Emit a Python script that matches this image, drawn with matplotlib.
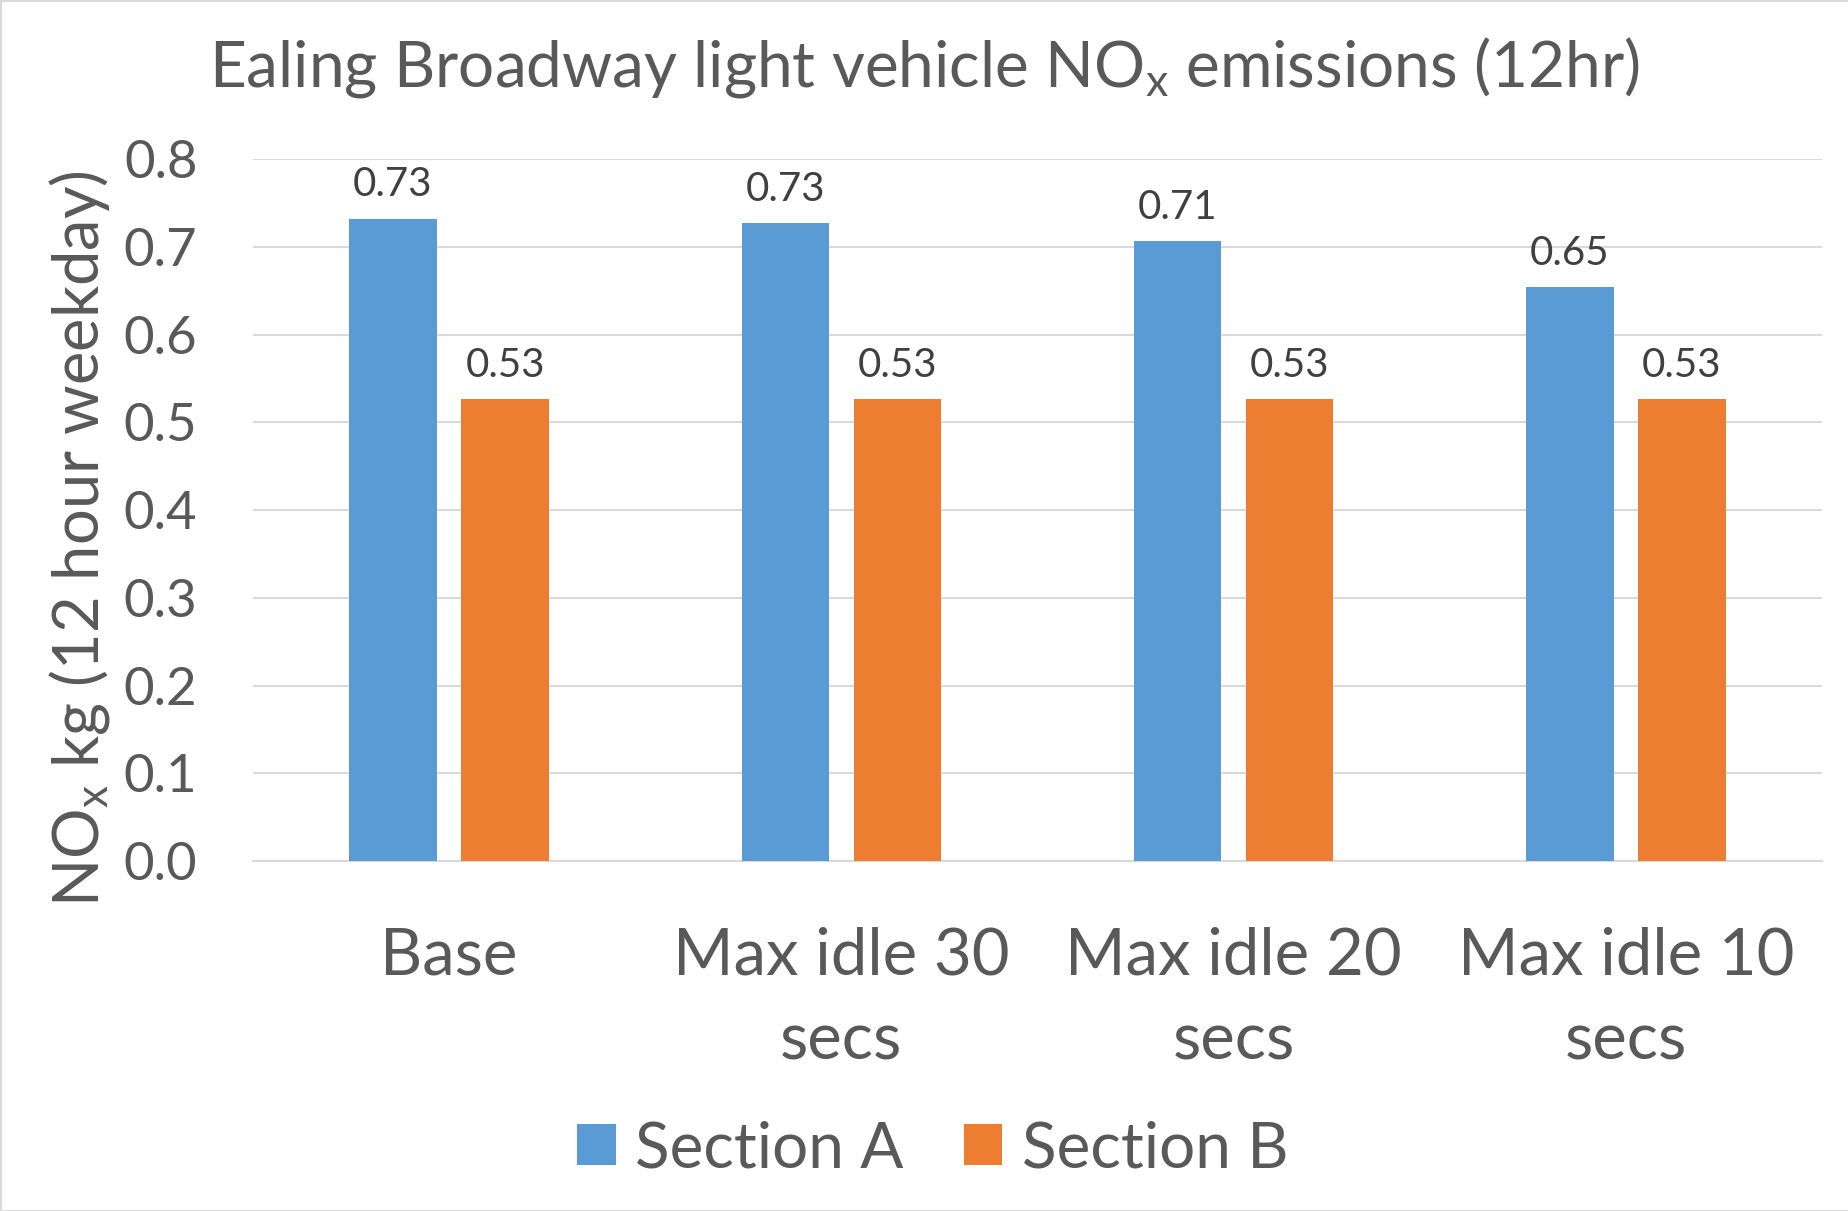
import matplotlib
matplotlib.use("Agg")
import matplotlib.pyplot as plt
import numpy as np
from matplotlib.patches import Patch

categories = ["Base", "Max idle 30\nsecs", "Max idle 20\nsecs", "Max idle 10\nsecs"]
section_a = [0.732, 0.727, 0.706, 0.654]
section_b = [0.526, 0.526, 0.526, 0.526]
series_names = ["Section A", "Section B"]
yticks = [0.0, 0.1, 0.2, 0.3, 0.4, 0.5, 0.6, 0.7, 0.8]

plt.rcParams['font.family'] = ['Lato', 'DejaVu Sans']
plt.rcParams['mathtext.fontset'] = 'custom'
plt.rcParams['mathtext.rm'] = 'Lato'
plt.rcParams['mathtext.it'] = 'Lato:italic'
plt.rcParams['mathtext.bf'] = 'Lato:bold'

BLUE = "#5B9BD5"
ORANGE = "#ED7D31"
TXT = "#595959"
LBL = "#404040"
GRID = "#D9D9D9"

fig = plt.figure(figsize=(18.49, 12.11), dpi=100)
fig.patch.set_facecolor("white")
fig.patch.set_edgecolor(GRID)
fig.patch.set_linewidth(2)

ax = fig.add_axes([0.1368, 0.289, 0.9854 - 0.1368, 0.8687 - 0.289])
x = np.arange(len(categories))
w = 0.223
off = 0.143
ba = ax.bar(x - off, section_a, w, color=BLUE, zorder=3, label=series_names[0])
bb = ax.bar(x + off, section_b, w, color=ORANGE, zorder=3, label=series_names[1])

for bars in (ba, bb):
    ax.bar_label(bars, fmt="%.2f", padding=11, fontsize=29, color=LBL)

ax.set_xlim(-0.5, 3.5)
ax.set_ylim(0, 0.8)
ax.set_yticks(yticks)
ax.set_yticklabels([f"{v:.1f}" for v in yticks])
ax.yaxis.grid(True, color=GRID, linewidth=1.5, zorder=0)
ax.set_axisbelow(True)
for s in ["left", "right", "top"]:
    ax.spines[s].set_visible(False)
ax.spines["bottom"].set_color(GRID)
ax.spines["bottom"].set_linewidth(1.5)
ax.tick_params(axis="y", length=0, pad=40, labelsize=38, labelcolor=TXT)
ax.tick_params(axis="x", length=0, pad=47, labelsize=47, labelcolor=TXT)
ax.set_xticks(x)
ax.set_xticklabels(categories, linespacing=1.55)

fig.text(0.5, 1 - 67 / 1211, r"Ealing Broadway light vehicle NO$_{\mathrm{x}}$ emissions (12hr)",
         ha="center", va="center", fontsize=46, color=TXT)
fig.text(80 / 1849, 1 - 539 / 1211, r"NO$_{\mathrm{x}}$ kg (12 hour weekday)",
         ha="center", va="center", rotation=90, fontsize=45.5, color=TXT)

handles = [Patch(facecolor=BLUE), Patch(facecolor=ORANGE)]
fig.legend(handles, series_names, loc="center", bbox_to_anchor=(0.5045, 62 / 1211),
           ncol=2, frameon=False, fontsize=46, labelcolor=TXT,
           handlelength=0.6, handleheight=0.6, handletextpad=0.3, columnspacing=0.95)

fig.savefig("out.png", dpi=100, facecolor="white", edgecolor=GRID)
